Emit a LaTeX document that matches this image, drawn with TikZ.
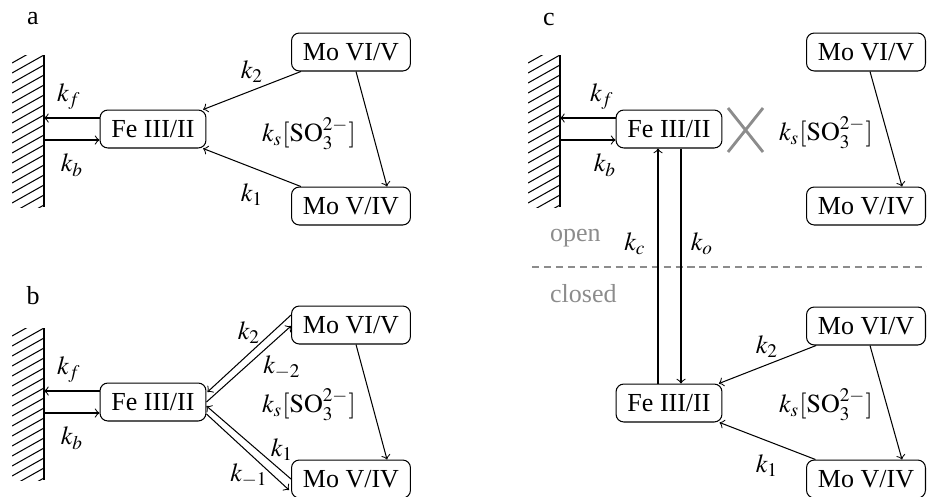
\documentclass[tikz,border=0pt]{standalone}
\usepackage{mathptmx}
\usepackage{fontspec}
\setmainfont{Liberation Serif}
\usetikzlibrary{calc}
\definecolor{ink}{HTML}{000000}
\definecolor{faint}{HTML}{8C8C8C}

% hatched electrode; #1 names a point on its face, level with Fe
\newcommand\electrode[1]{%
  \begin{scope}
    \clip (12,55) rectangle (44,207);
    \foreach \y in {45,55,...,235} \draw[hatch] (12,\y+18) -- (44,\y);
  \end{scope}
  \draw[face] (44,55) -- (44,207);
  \coordinate (#1) at (44,129);}

\begin{document}
\begin{tikzpicture}[x=0.3846pt,y=-0.3846pt,
  every node/.style={text=ink,inner sep=1pt},
  site/.style={draw=ink,rounded corners=3pt,minimum height=14.6pt,
    inner xsep=4.4pt,line width=.4pt},
  flow/.style={->,line width=.4pt,draw=ink},
  face/.style={line width=.8pt},
  hatch/.style={line width=.4pt},
  state/.style={text=faint,anchor=west},
  blocked/.style={draw=faint,line width=1.1pt},
  divide/.style={draw=faint,line width=.8pt,dash pattern=on 2.7pt off 1.9pt}]

\useasboundingbox (0,0) rectangle (927,496);

% -------------------------------------------------------------------------
% a: Fe is reduced by both Mo couples.
% -------------------------------------------------------------------------
\begin{scope}
  \node at (33,19) {a};
  \electrode{wa}
  \node[site] (fea)  at (153,129) {Fe III/II};
  \node[site] (mo6a) at (351,52)  {Mo VI/V};
  \node[site] (mo5a) at (351,206) {Mo V/IV};
  \draw[flow] ($(fea.west)+(0,-11)$) -- ($(wa)+(0,-11)$);
  \draw[flow] ($(wa)+(0,11)$) -- ($(fea.west)+(0,11)$);
  \draw[flow] (mo6a) -- (fea);
  \draw[flow] (mo5a) -- (fea);
  \draw[flow] ($(mo6a.south)+(5,0)$) -- ($(mo5a.north)+(36,0)$);
  \node at (69,97)  {$k_f$};
  \node at (72,165) {$k_b$};
  \node at (252,72)  {$k_2$};
  \node at (252,195) {$k_1$};
  \node at (309,134) {$k_s[\mathrm{SO}_3^{2-}]$};
\end{scope}

% -------------------------------------------------------------------------
% b: both intramolecular steps are reversible.
% -------------------------------------------------------------------------
\begin{scope}[shift={(0,273)}]
  \node at (33,23) {b};
  \electrode{wb}
  \node[site] (feb)  at (153,129) {Fe III/II};
  \node[site] (mo6b) at (351,52)  {Mo VI/V};
  \node[site] (mo5b) at (351,206) {Mo V/IV};
  \draw[flow] ($(feb.west)+(0,-11)$) -- ($(wb)+(0,-11)$);
  \draw[flow] ($(wb)+(0,11)$) -- ($(feb.west)+(0,11)$);
  \draw[flow] ($(mo6b.west)+(0,-10)$) -- ($(feb.east)+(1,-10)$);
  \draw[flow] (feb.east) -- ($(mo6b.west)+(0,1)$);
  \draw[flow] (mo5b.west) -- ($(feb.east)+(0,4)$);
  \draw[flow] ($(feb.east)+(0,12)$) -- ($(mo5b.west)+(-2,11)$);
  \draw[flow] ($(mo6b.south)+(5,0)$) -- ($(mo5b.north)+(36,0)$);
  \node at (69,97)  {$k_f$};
  \node at (72,165) {$k_b$};
  \node at (249,60)  {$k_2$};
  \node at (282,94)  {$k_{-2}$};
  \node at (282,177) {$k_1$};
  \node at (249,202) {$k_{-1}$};
  \node at (309,132) {$k_s[\mathrm{SO}_3^{2-}]$};
\end{scope}

% -------------------------------------------------------------------------
% c: open form talks to the electrode, closed form to Mo.
% -------------------------------------------------------------------------
\begin{scope}[shift={(516,0)}]
  \node at (33,19) {c};
  \electrode{wc}
  \node[site] (fec)  at (153,129) {Fe III/II};
  \node[site] (mo6c) at (350,52)  {Mo VI/V};
  \node[site] (mo5c) at (350,206) {Mo V/IV};
  \draw[flow] ($(fec.west)+(0,-11)$) -- ($(wc)+(0,-11)$);
  \draw[flow] ($(wc)+(0,11)$) -- ($(fec.west)+(0,11)$);
  \draw[flow] ($(mo6c.south)+(4,0)$) -- ($(mo5c.north)+(36,0)$);
  \draw[blocked] (212,108) -- (247,152) (212,152) -- (247,108);
  \node at (86,97)  {$k_f$};
  \node at (89,165) {$k_b$};
  \node at (310,133) {$k_s[\mathrm{SO}_3^{2-}]$};

  \coordinate (dl) at (16,267);
  \coordinate (dr) at (411,267);
  \draw[divide] (dl) -- (dr);
  \node[state] at (31,238) {open};
  \node[state] at (31,294) {closed};

  \node[site] (fed)  at (153,403) {Fe III/II};
  \node[site] (mo6d) at (350,326) {Mo VI/V};
  \node[site] (mo5d) at (350,479) {Mo V/IV};
  \draw[flow] ($(fed.north)+(-11,0)$) -- ($(fec.south)+(-11,0)$);
  \draw[flow] ($(fec.south)+(12,0)$) -- ($(fed.north)+(12,0)$);
  \draw[flow] (mo6d) -- (fed);
  \draw[flow] (mo5d) -- (fed);
  \draw[flow] ($(mo6d.south)+(4,0)$) -- ($(mo5d.north)+(36,0)$);
  \node at (119,244) {$k_c$};
  \node at (186,244) {$k_o$};
  \node at (251,347) {$k_2$};
  \node at (251,466) {$k_1$};
  \node at (310,405) {$k_s[\mathrm{SO}_3^{2-}]$};
\end{scope}
\end{tikzpicture}
\end{document}
